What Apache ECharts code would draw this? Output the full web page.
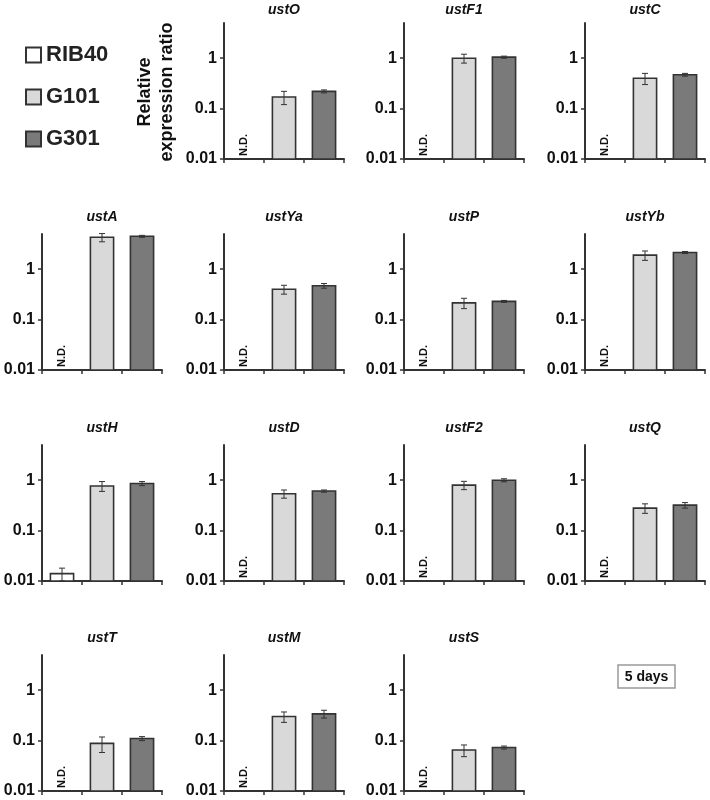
<!DOCTYPE html>
<html><head><meta charset="utf-8">
<script src="https://cdn.jsdelivr.net/npm/echarts@6/dist/echarts.min.js"></script>
<style>html,body{margin:0;padding:0;background:#fff}#c{width:710px;height:800px}</style>
</head><body><div id="c"></div>
<script>
// ---- data ----
const genes = ['ustO','ustF1','ustC','ustA','ustYa','ustP','ustYb','ustH','ustD','ustF2','ustQ','ustT','ustM','ustS'];
const strains = ['RIB40','G101','G301'];
const rib40    = [null, null, null, null, null, null, null, 0.014, null, null, null, null, null, null];
const rib40Err = [null, null, null, null, null, null, null, 0.004, null, null, null, null, null, null];
const g101     = [0.17, 1.0, 0.40, 4.3, 0.40, 0.215, 1.9, 0.77, 0.54, 0.80, 0.28, 0.088, 0.30, 0.065];
const g101Err  = [0.05, 0.2, 0.10, 0.8, 0.08, 0.05, 0.4, 0.17, 0.10, 0.15, 0.06, 0.030, 0.07, 0.017];
const g301     = [0.22, 1.05, 0.47, 4.5, 0.47, 0.23, 2.15, 0.86, 0.61, 1.0, 0.32, 0.11, 0.34, 0.073];
const g301Err  = [0.015, 0.05, 0.03, 0.2, 0.05, 0.01, 0.1, 0.08, 0.03, 0.07, 0.04, 0.01, 0.06, 0.005];
const yTickValues = [0.01, 0.1, 1];
const yMin = 0.01, yMax = 5;
const ndLabel = 'N.D.';
const yTitle = 'Relative\nexpression ratio';
const noteText = '5 days';

// ---- layout / style ----
const FONT = '"Liberation Sans", Arial, sans-serif';
const colX = [42, 224, 404, 585];
const rowY = [23, 234, 445, 655];
const GW = 120, GH = 136;
const slots = [[0,1],[0,2],[0,3],[1,0],[1,1],[1,2],[1,3],[2,0],[2,1],[2,2],[2,3],[3,0],[3,1],[3,2]];
const fills = ['#ffffff', '#d9d9d9', '#7a7a7a'];
const INK = '#333333';
const values = [rib40, g101, g301];
const errs = [rib40Err, g101Err, g301Err];

function renderBar(params, api) {
  const i = api.value(0), v = api.value(1), e = api.value(2), nd = api.value(3);
  const base = api.coord([i, yMin]);
  if (nd) {
    return {
      type: 'text', x: base[0], y: base[1] - 3, rotation: Math.PI / 2,
      style: { text: ndLabel, font: 'bold 11px ' + FONT, fill: '#111', align: 'left', verticalAlign: 'middle' }
    };
  }
  const top = api.coord([i, v]);
  let bw = api.size([1, 0])[0];
  if (!isFinite(bw)) bw = 40;
  const w = bw * 0.58;
  const hi = api.coord([i, v + e]);
  const lo = api.coord([i, Math.max(v - e, yMin)]);
  const cx = top[0], cap = 3;
  const ls = { stroke: INK, lineWidth: 1 };
  return {
    type: 'group',
    children: [
      { type: 'rect', shape: { x: cx - w / 2, y: top[1], width: w, height: base[1] - top[1] },
        style: { fill: fills[i], stroke: INK, lineWidth: 1.6 } },
      { type: 'line', shape: { x1: cx, y1: hi[1], x2: cx, y2: lo[1] }, style: ls },
      { type: 'line', shape: { x1: cx - cap, y1: hi[1], x2: cx + cap, y2: hi[1] }, style: ls },
      { type: 'line', shape: { x1: cx - cap, y1: lo[1], x2: cx + cap, y2: lo[1] }, style: ls }
    ]
  };
}

const grid = [], xAxis = [], yAxis = [], series = [], graphic = [];
genes.forEach((g, p) => {
  const [r, c] = slots[p];
  grid.push({ left: colX[c], top: rowY[r], width: GW, height: GH });
  xAxis.push({
    type: 'category', gridIndex: p, data: strains,
    axisLine: { show: true, lineStyle: { color: INK, width: 2 } },
    axisTick: { show: true, alignWithLabel: false, interval: 0, length: 4, lineStyle: { color: INK, width: 1.5 } },
    axisLabel: { show: false }, splitLine: { show: false }
  });
  yAxis.push({
    type: 'log', logBase: 10, gridIndex: p, min: yMin, max: yMax,
    axisLine: { show: true, lineStyle: { color: INK, width: 2 } },
    axisTick: { show: true, length: 4, customValues: yTickValues, lineStyle: { color: INK, width: 1.5 } },
    axisLabel: { show: true, customValues: yTickValues, margin: 7, color: '#111', fontFamily: FONT, fontWeight: 'bold', fontSize: 16,
      formatter: v => String(+(+v).toPrecision(3)) },
    splitLine: { show: false }
  });
  strains.forEach((s, si) => {
    const v = values[si][p], e = errs[si][p];
    series.push({
      type: 'custom', name: s, xAxisIndex: p, yAxisIndex: p, silent: true, clip: false,
      itemStyle: { color: fills[si], borderColor: INK },
      renderItem: renderBar,
      data: [[si, v == null ? yMin : v, e == null ? 0 : e, v == null ? 1 : 0]]
    });
  });
  graphic.push({
    type: 'text', x: colX[c] + GW / 2, y: Math.max(10, rowY[r] - 17),
    style: { text: g, align: 'center', verticalAlign: 'middle', font: 'italic bold 14px ' + FONT, fill: '#111' }
  });
});

graphic.push({
  type: 'text', x: 156, y: 92, rotation: Math.PI / 2,
  style: { text: yTitle, align: 'center', verticalAlign: 'middle', font: 'bold 18px ' + FONT, lineHeight: 22, fill: '#111' }
});
graphic.push({
  type: 'rect', shape: { x: 618, y: 665, width: 57, height: 23 },
  style: { fill: '#fff', stroke: '#999', lineWidth: 1.5 }
});
graphic.push({
  type: 'text', x: 646.5, y: 677,
  style: { text: noteText, align: 'center', verticalAlign: 'middle', font: 'bold 14px ' + FONT, fill: '#111' }
});

const chart = echarts.init(document.getElementById('c'), null, { renderer: 'canvas' });
chart.setOption({
  animation: false,
  backgroundColor: '#fff',
  legend: {
    data: strains.map((n, i) => ({ name: n, icon: 'rect', itemStyle: { color: fills[i], borderColor: INK, borderWidth: 2 } })),
    orient: 'vertical', left: 20, top: 39, itemWidth: 15, itemHeight: 15, itemGap: 20, itemTextGap: 7,
    selectedMode: false,
    textStyle: { fontFamily: FONT, fontWeight: 'bold', fontSize: 22, lineHeight: 22, color: '#222' }
  },
  grid, xAxis, yAxis, series, graphic
});
</script></body></html>
